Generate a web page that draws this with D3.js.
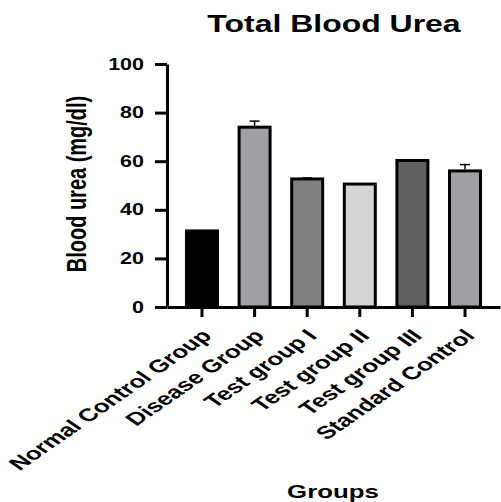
<!DOCTYPE html>
<html><head><meta charset="utf-8">
<script src="https://cdn.jsdelivr.net/npm/d3@7"></script>
<style>body{margin:0;background:#fff}text{font-family:"Liberation Sans",Arial,sans-serif;font-weight:bold}</style>
</head><body><svg id="c" width="501" height="502"></svg>
<script>
const categories = ["Normal Control Group","Disease Group","Test group I","Test group II","Test group III","Standard Control"];
const values = [31.3, 74, 52.7, 50.6, 60.3, 56];
const errors = [0, 2.5, 0.4, 0, 0, 2.6];
const fills = ["#000000","#a0a0a4","#808080","#d4d4d4","#606060","#a0a0a4"];
const yTicks = [0,20,40,60,80,100];

const S = 1.36; // horizontal stretch of the original figure
const SL = 1.44;
const svg = d3.select("#c");
const x = d3.scaleBand().domain(categories).range([167,500]).paddingInner(0.354).paddingOuter(0.342);
const y = d3.scaleLinear().domain([0,100]).range([307,64]);

svg.append("text").attr("transform",`translate(334,32) scale(${S},1)`).attr("text-anchor","middle").style("font-size","23.5px").text("Total Blood Urea");

// bars
const g = svg.append("g");
categories.forEach((c,i)=>{
  const bx = x(c), bw = x.bandwidth();
  g.append("rect").attr("x",bx+1.5).attr("y",y(values[i])).attr("width",bw-3).attr("height",y(0)-y(values[i]))
    .attr("fill",fills[i]).attr("stroke","#000").attr("stroke-width",3);
  if (errors[i]>0){
    const cx = bx+bw/2;
    g.append("line").attr("x1",cx).attr("x2",cx).attr("y1",y(values[i])-1.5).attr("y2",y(values[i]+errors[i])).attr("stroke","#000").attr("stroke-width",1.5);
    g.append("line").attr("x1",cx-5).attr("x2",cx+5).attr("y1",y(values[i]+errors[i])).attr("y2",y(values[i]+errors[i])).attr("stroke","#000").attr("stroke-width",1.5);
  }
});

// y axis
const ya = svg.append("g").attr("transform","translate(167,0)").call(d3.axisLeft(y).tickValues(yTicks).tickSize(12).tickSizeOuter(0));
ya.select(".domain").attr("stroke-width",3);
ya.selectAll(".tick line").attr("stroke-width",3);
ya.selectAll(".tick text").style("font-size","15.8px").style("font-family","Liberation Sans, Arial").style("font-weight","bold")
  .attr("x",0).attr("transform",`translate(-23,0) scale(${S},1)`);

// x axis
const xa = svg.append("g").attr("transform","translate(0,307)").call(d3.axisBottom(x).tickSize(10).tickSizeOuter(0));
xa.select(".domain").attr("stroke-width",3);
xa.selectAll(".tick line").attr("stroke-width",3);
xa.selectAll(".tick text").style("font-size","18px").style("font-family","Liberation Sans, Arial").style("font-weight","bold")
  .attr("text-anchor","end").attr("dy",null).attr("y",0).attr("x",0)
  .attr("transform",`translate(11,30) scale(${SL},1) rotate(-45)`);

svg.append("text").attr("transform",`translate(86,184) scale(${S},1) rotate(-90)`).attr("text-anchor","middle").style("font-size","20px").text("Blood urea (mg/dl)");
svg.append("text").attr("transform",`translate(333,498) scale(${S},1)`).attr("text-anchor","middle").style("font-size","19px").text("Groups");
</script></body></html>
